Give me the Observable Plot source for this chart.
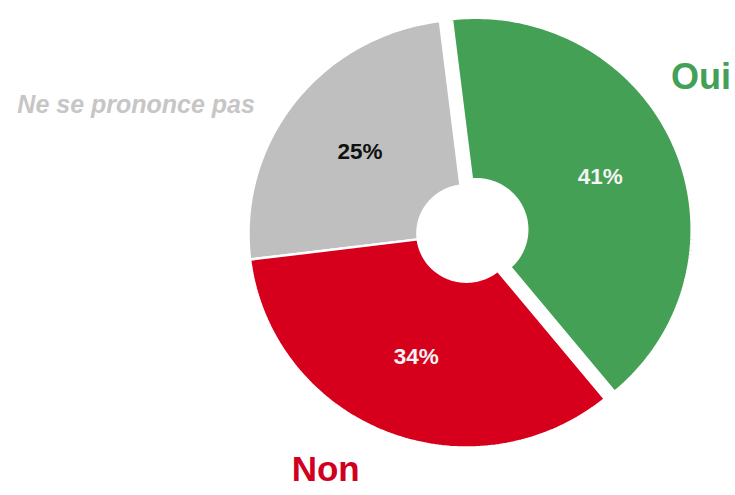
<!DOCTYPE html>
<html><head><meta charset="utf-8">
<script src="https://cdn.jsdelivr.net/npm/d3@7"></script>
<script src="https://cdn.jsdelivr.net/npm/@observablehq/plot@0.6"></script>
<style>body{margin:0;background:#fff}</style>
</head><body><div id="chart"></div>
<script>
// ---- data ----
const categories = ["Oui", "Non", "Ne se prononce pas"];
const values = [41, 34, 25];
const sliceColors = ["#44a055", "#d7001c", "#bfbfbf"];
const labelColors = ["#43a057", "#d1001f", "#c6c6c6"];
const valueTextColors = ["#f4f4f4", "#f4f4f4", "#111111"];

// ---- layout ----
const W = 735, H = 495;
const cx = 466, cy = 233, rxPx = 218, ryPx = 214;
const inner = 0.225, labelR = 0.62, startDeg = -7;
const explode = [0.047, 0, 0];
const strokeW = [7, 2.5, 2.5];
const catLabelPolar = [[55.8, 1.30], [210.3, 1.28], [291.6, 1.63]];
const catFont = [{size: 36, style: "normal"}, {size: 35, style: "normal"}, {size: 25, style: "italic"}];

const rad = d => d * Math.PI / 180;
const s0 = rad(startDeg);
const arcs = d3.pie().sort(null).startAngle(s0).endAngle(s0 + 2 * Math.PI)(values);

const slices = arcs.map((a, i) => {
  const mid = (a.startAngle + a.endAngle) / 2;
  const ox = explode[i] * Math.sin(mid), oy = explode[i] * Math.cos(mid);
  const n = Math.max(8, Math.ceil((a.endAngle - a.startAngle) / rad(1)));
  const pts = [];
  for (let k = 0; k <= n; k++) {
    const t = a.startAngle + (a.endAngle - a.startAngle) * k / n;
    pts.push({x: ox + Math.sin(t), y: oy + Math.cos(t)});
  }
  for (let k = n; k >= 0; k--) {
    const t = a.startAngle + (a.endAngle - a.startAngle) * k / n;
    pts.push({x: ox + inner * Math.sin(t), y: oy + inner * Math.cos(t)});
  }
  return {pts, mid, ox, oy};
});

const idx = d3.range(values.length);
const order = [2, 1, 0];

const chart = Plot.plot({
  width: W, height: H, margin: 0,
  style: {background: "#fff", fontFamily: "'Liberation Sans', Arial, sans-serif"},
  x: {domain: [-cx / rxPx, (W - cx) / rxPx], axis: null},
  y: {domain: [-(H - cy) / ryPx, cy / ryPx], axis: null},
  color: {type: "identity"},
  marks: [
    ...order.map(i => Plot.line(slices[i].pts, {
      x: "x", y: "y", fill: sliceColors[i], stroke: "white",
      strokeWidth: strokeW[i], strokeLinejoin: "miter", curve: "linear-closed"
    })),
    Plot.text(idx, {
      x: i => slices[i].ox + labelR * Math.sin(slices[i].mid),
      y: i => slices[i].oy + labelR * Math.cos(slices[i].mid),
      text: i => values[i] + "%",
      fill: i => valueTextColors[i],
      fontSize: 22.5, fontWeight: "bold", textAnchor: "middle", lineAnchor: "middle"
    }),
    ...idx.map(i => Plot.text([i], {
      x: j => catLabelPolar[j][1] * Math.sin(rad(catLabelPolar[j][0])),
      y: j => catLabelPolar[j][1] * Math.cos(rad(catLabelPolar[j][0])),
      text: j => categories[j],
      fill: labelColors[i],
      fontSize: catFont[i].size, fontStyle: catFont[i].style, fontWeight: "bold",
      textAnchor: "middle", lineAnchor: "middle"
    }))
  ]
});
document.getElementById("chart").appendChild(chart);
</script>
</body></html>
